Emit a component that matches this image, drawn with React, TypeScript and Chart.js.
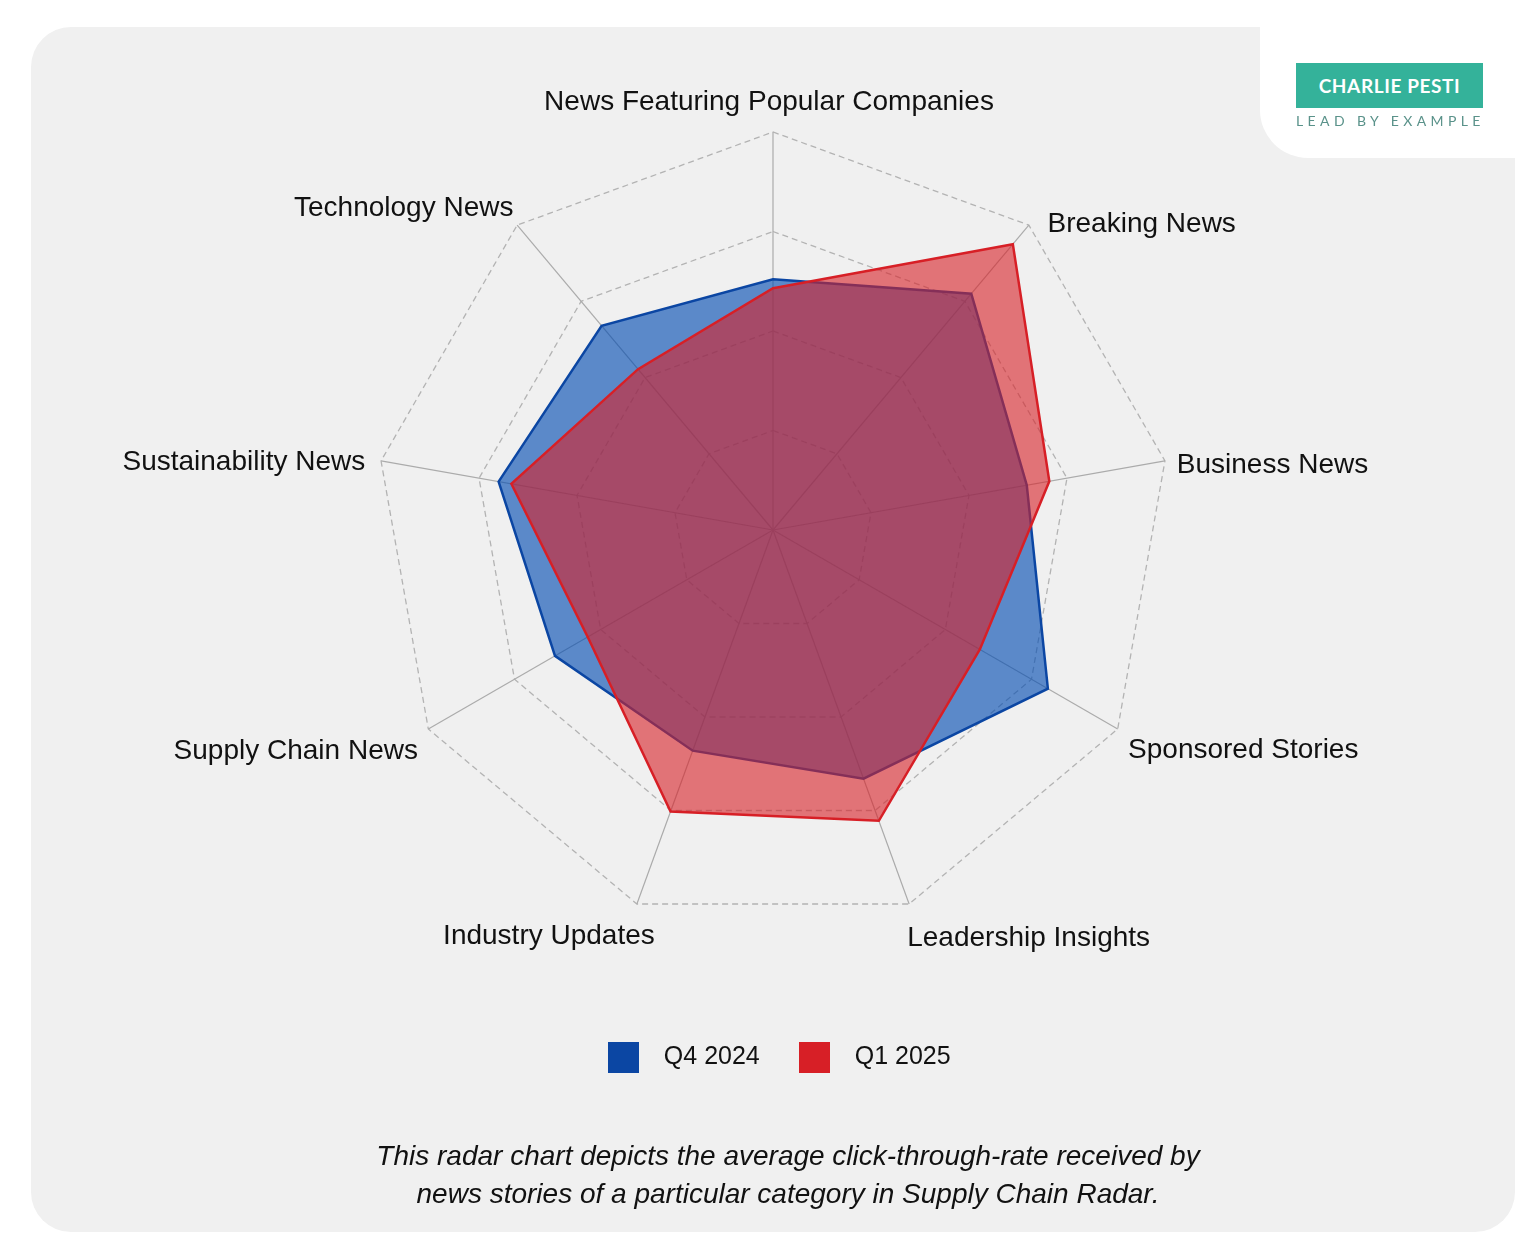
import React, { useEffect, useRef } from 'react';
import { Chart, registerables } from 'chart.js';

Chart.register(...registerables);

// données (unités = anneaux de la grille)
const categories = [
  'News Featuring Popular Companies',
  'Breaking News',
  'Business News',
  'Sponsored Stories',
  'Leadership Insights',
  'Industry Updates',
  'Supply Chain News',
  'Sustainability News',
  'Technology News',
];
const seriesNames = ['Q4 2024', 'Q1 2025'];
const q4_2024 = [2.52, 3.1, 2.59, 3.19, 2.66, 2.36, 2.53, 2.8, 2.68];
const q1_2025 = [2.43, 3.75, 2.82, 2.4, 3.11, 3.01, 2.15, 2.67, 2.11];
const scaleMax = 4;
const scaleStep = 1;

const FONT = '"Liberation Sans", Arial, Helvetica, sans-serif';
const BLUE = '#0b46a3';
const RED = '#d71f26';

// petits décalages des libellés d'axes (style seulement)
const labelNudge: [number, number][] = [
  [-4, 0],
  [11, 21],
  [0, 6],
  [0, 0],
  [-6, -2],
  [22, -4],
  [0, 1],
  [-4, 3],
  [4, 5],
];

const axisLabelsPlugin = {
  id: 'axisLabels',
  afterDraw(chart: any) {
    const scale = chart.scales.r;
    const ctx = chart.ctx;
    ctx.save();
    ctx.font = `28px ${FONT}`;
    ctx.fillStyle = '#111';
    ctx.textBaseline = 'middle';
    categories.forEach((label, i) => {
      const angle = scale.getIndexAngle(i);
      const s = Math.sin(angle);
      const c = Math.cos(angle);
      const p = scale.getPointPosition(i, scale.drawingArea + 12);
      ctx.textAlign = s > 0.05 ? 'left' : s < -0.05 ? 'right' : 'center';
      const n = labelNudge[i] || [0, 0];
      ctx.fillText(label, p.x + n[0], p.y - c * 22 + 4 + n[1]);
    });
    ctx.restore();
  },
};

// carré plein de la légende
const legendSquare = (color: string) => {
  const c = document.createElement('canvas');
  c.width = 31;
  c.height = 31;
  const g = c.getContext('2d')!;
  g.fillStyle = color;
  g.fillRect(0, 0, 31, 31);
  return c;
};

const RadarChart: React.FC = () => {
  const canvasRef = useRef<HTMLCanvasElement | null>(null);
  const chartRef = useRef<Chart | null>(null);

  useEffect(() => {
    if (!canvasRef.current) return;
    if (chartRef.current) chartRef.current.destroy();

    chartRef.current = new Chart(canvasRef.current, {
      type: 'radar',
      data: {
        labels: categories,
        datasets: [
          {
            label: seriesNames[0],
            data: q4_2024,
            borderColor: BLUE,
            backgroundColor: 'rgba(0, 75, 177, 0.62)',
            borderWidth: 2.5,
            pointRadius: 0,
            fill: true,
            order: 1,
          },
          {
            label: seriesNames[1],
            data: q1_2025,
            borderColor: RED,
            backgroundColor: 'rgba(215, 31, 38, 0.6)',
            borderWidth: 2.5,
            pointRadius: 0,
            fill: true,
            order: 0,
          },
        ],
      },
      options: {
        responsive: true,
        maintainAspectRatio: false,
        animation: false,
        layout: { padding: { left: 242, right: 242, top: 105, bottom: 152 } },
        scales: {
          r: {
            min: 0,
            max: scaleMax,
            ticks: { display: false, stepSize: scaleStep },
            pointLabels: { display: false },
            grid: { color: '#b3b3b3', lineWidth: 1.3 },
            border: { dash: [6, 4] },
            angleLines: { display: true, color: '#ababab', lineWidth: 1.2 },
          } as any,
        },
        plugins: {
          tooltip: { enabled: false },
          legend: {
            position: 'bottom',
            title: { display: true, text: '', font: { size: 12 }, padding: { top: 0, bottom: 76.1 } },
            labels: {
              usePointStyle: true,
              pointStyleWidth: 56,
              boxHeight: 25,
              padding: 26.5,
              color: '#111',
              font: { family: FONT, size: 25 },
              sort: (a: any, b: any) => a.datasetIndex - b.datasetIndex,
              generateLabels: (chart: any) =>
                Chart.defaults.plugins.legend.labels
                  .generateLabels(chart)
                  .map((l: any) => ({ ...l, pointStyle: legendSquare(l.strokeStyle), lineWidth: 0 })),
            },
          },
        },
      },
      plugins: [axisLabelsPlugin],
    });

    return () => {
      if (chartRef.current) {
        chartRef.current.destroy();
        chartRef.current = null;
      }
    };
  }, []);

  return (
    <div style={{ position: 'absolute', left: 31, top: 27, width: 1484, height: 1205 }}>
      <canvas ref={canvasRef}></canvas>
    </div>
  );
};

const App: React.FC = () => {
  return (
    <div style={{ position: 'absolute', left: 0, top: 0, width: 1540, height: 1260, background: '#fff', overflow: 'hidden' }}>
      <div style={{ position: 'absolute', left: 31, top: 27, width: 1484, height: 1205, background: '#f0f0f0', borderRadius: 40 }} />
      <div style={{ position: 'absolute', left: 1260, top: 0, width: 280, height: 158, background: '#fff', borderBottomLeftRadius: 48 }} />
      <RadarChart />
      <div
        style={{
          position: 'absolute',
          left: 1296,
          top: 63,
          width: 187,
          height: 45,
          background: '#34b29a',
          color: '#fff',
          fontFamily: 'Lato, "Open Sans", sans-serif',
          fontWeight: 700,
          fontSize: 19,
          letterSpacing: 0.6,
          display: 'flex',
          alignItems: 'center',
          justifyContent: 'center',
        }}
      >
        CHARLIE PESTI
      </div>
      <div
        style={{
          position: 'absolute',
          left: 1296,
          top: 111,
          width: 210,
          fontFamily: 'Lato, "Open Sans", sans-serif',
          fontSize: 14,
          letterSpacing: 4.4,
          color: '#5a928a',
          lineHeight: '20px',
          whiteSpace: 'nowrap',
        }}
      >
        LEAD BY EXAMPLE
      </div>
      <div
        style={{
          position: 'absolute',
          left: 288,
          top: 1137,
          width: 1000,
          textAlign: 'center',
          fontFamily: FONT,
          fontStyle: 'italic',
          fontSize: 28,
          lineHeight: '38px',
          color: '#111',
        }}
      >
        This radar chart depicts the average click-through-rate received by
        <br />
        news stories of a particular category in Supply Chain Radar.
      </div>
    </div>
  );
};

export default App;
